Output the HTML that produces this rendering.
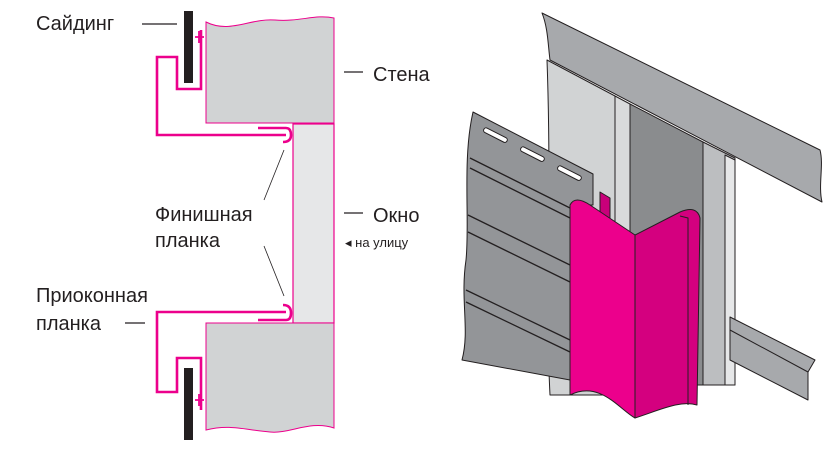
<!DOCTYPE html>
<html><head><meta charset="utf-8"><style>
body{margin:0;background:#fff;width:838px;height:460px;overflow:hidden}
svg{display:block}
text{font-family:"Liberation Sans",sans-serif;fill:#231f20}
</style></head><body>
<svg width="838" height="460" viewBox="0 0 838 460">
<!-- left diagram -->
<path d="M206,22 C230,34 250,18 275,20 C300,22 315,14 334,18 L334,123 L206,123 Z" fill="#d1d3d4" stroke="#ec008c" stroke-width="1"/>
<rect x="293" y="124" width="41" height="199" fill="#e6e7e8" stroke="#ec008c" stroke-width="1.2"/>
<path d="M206,323 L334,323 L334,428 C310,420 290,434 270,432 C245,430 230,424 206,430 Z" fill="#d1d3d4" stroke="#ec008c" stroke-width="1"/>
<g stroke="#231f20" stroke-width="1.2">
<line x1="142" y1="24" x2="177" y2="24"/><line x1="344" y1="72" x2="363" y2="72"/>
<line x1="344" y1="213" x2="363" y2="213"/><line x1="125" y1="323" x2="145" y2="323"/>
<line x1="284" y1="150" x2="264" y2="200" stroke-width="0.8"/><line x1="264" y1="246" x2="284" y2="296" stroke-width="0.8"/>
</g>
<rect x="184" y="11" width="9" height="72" fill="#231f20"/>
<rect x="184" y="368" width="9" height="72" fill="#231f20"/>
<g fill="none" stroke="#ec008c" stroke-width="2.6">
<path d="M201,30 L201,89 L177,89 L177,57 L157,57 L157,135 L286,135"/>
<path d="M258,128 L286,128 Q291,128 291,135 Q291,142 283,142"/>
<path d="M201,410 L201,358 L177,358 L177,392 L157,392 L157,312 L286,312"/>
<path d="M258,320 L286,320 Q291,320 291,313 Q291,305 283,305"/>
<path d="M195,37 L204,37 M199,31 L199,43 M195,400 L204,400 M199,394 L199,406" stroke-width="1.8"/>
</g>
<text x="36" y="30" font-size="20">Сайдинг</text>
<text x="373" y="81" font-size="20">Стена</text>
<text x="373" y="222" font-size="20">Окно</text>
<text x="345" y="247" font-size="13">◂ на улицу</text>
<text x="155" y="221" font-size="20">Финишная</text>
<text x="155" y="247" font-size="20">планка</text>
<text x="36" y="302" font-size="20">Приоконная</text>
<text x="36" y="330" font-size="20">планка</text>
<!-- right 3D -->
<g stroke="#231f20" stroke-width="1" stroke-linejoin="round">
<path d="M547,60 L615,96 L615,395 L550,395 C545,300 552,200 547,60 Z" fill="#d1d3d4"/>
<path d="M615,96 L630,104 L630,395 L615,395 Z" fill="#d9dadb"/>
<path d="M630,104 L703,142 L703,385 L630,385 Z" fill="#8a8c8e"/>
<path d="M703,142 L735,158 L735,385 L703,385 Z" fill="#bcbec0"/>
<path d="M725,155 L735,160 L735,385 L725,385 Z" fill="#e6e7e8"/>
<path d="M542,13 L820,150 C824,165 818,185 822,202 L550,60 C548,45 548,28 542,13 Z" fill="#a7a9ac"/>
<path d="M730,317 L815,360 L808,372 L808,400 L730,360 Z" fill="#a7a9ac"/>
<path d="M730,330 L808,372" fill="none"/>
<path d="M473,112 L593,174 L593,205 L570,205 L570,380 L462,360 C470,330 460,300 466,260 C470,220 462,160 473,112 Z" fill="#939598"/>
<g fill="#fff"><rect x="485" y="127" width="26" height="5" rx="2.5" transform="rotate(27 485 127)"/>
<rect x="522" y="146" width="26" height="5" rx="2.5" transform="rotate(27 522 146)"/>
<rect x="559" y="165" width="26" height="5" rx="2.5" transform="rotate(27 559 165)"/></g>
<g fill="none" stroke-width="1.3"><path d="M470,158 L570,208"/><path d="M470,168 L570,218"/><path d="M468,215 L570,265"/><path d="M468,232 L570,282"/><path d="M466,290 L570,340"/><path d="M466,302 L570,352"/></g>
<path d="M600,192 L610,198 L610,230 L600,225 Z" fill="#c8007a"/>
<path d="M570,205 Q575,195 590,205 L635,235 L635,418 C620,410 600,380 570,395 Z" fill="#ec008c"/>
<path d="M635,235 L680,212 Q697,205 700,218 L697,405 C680,400 660,410 635,418 Z" fill="#d4007f"/>
<path d="M680,216 L688,218 L688,405" fill="none"/>
</g>
</svg>
</body></html>
